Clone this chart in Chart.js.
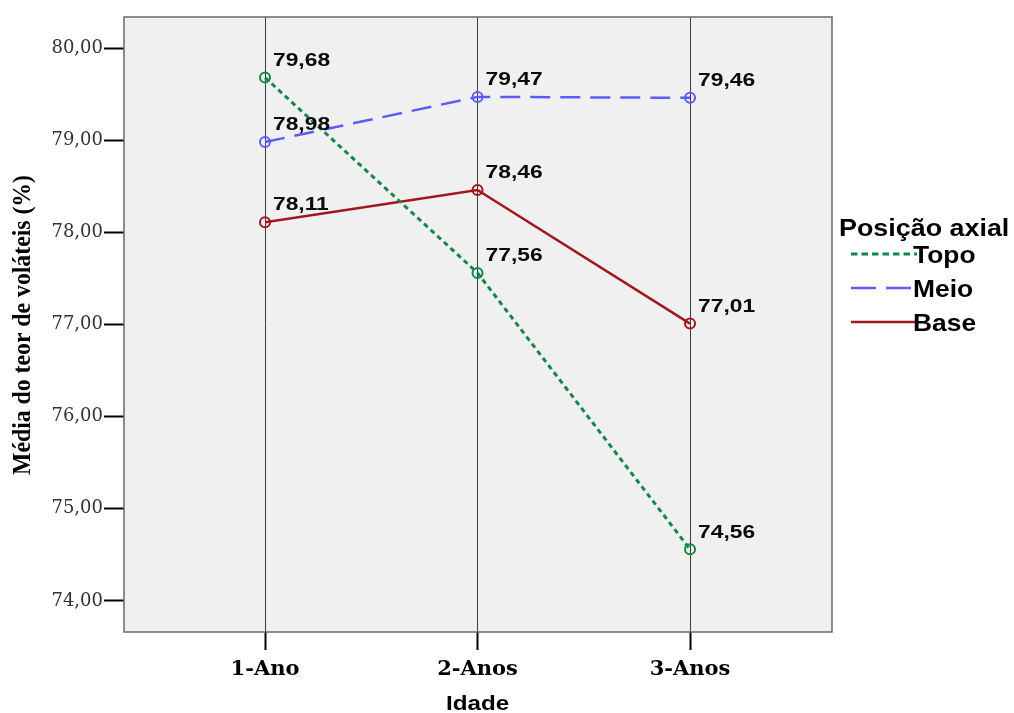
<!DOCTYPE html>
<html>
<head>
<meta charset="utf-8">
<title>Média do teor de voláteis por idade e posição axial</title>
<script src="https://cdn.jsdelivr.net/npm/chart.js@4.4.1/dist/chart.umd.min.js"></script>
<style>
  html, body { margin: 0; padding: 0; background: #ffffff; }
  #wrap { position: relative; width: 1014px; height: 713px; }
</style>
</head>
<body>
<div id="wrap"><canvas id="chart" width="1014" height="713"></canvas></div>
<script>
// Categories (age of the wood) and mean volatile content per axial position
const categories = ['1-Ano', '2-Anos', '3-Anos'];
const topo = [79.68, 77.56, 74.56];
const meio = [78.98, 79.47, 79.46];
const base = [78.11, 78.46, 77.01];
const yTickValues = [74, 75, 76, 77, 78, 79, 80];
const seriesNames = ['Topo', 'Meio', 'Base'];

const legendTitle = 'Posição axial';
const xTitle = 'Idade';
const yTitle = 'Média do teor de voláteis (%)';

const COLORS = { topo: '#12874a', meio: '#5b5bff', base: '#a3161e' };
const DASHES = { topo: [5, 4], meio: [20, 10], base: [] };

const fmt = v => v.toFixed(2).replace('.', ',');
const toPoints = arr => arr.map((v, i) => ({ x: i, y: v }));

// Draw text stretched horizontally by a given factor
function wideText(ctx, text, x, y, sx) {
  ctx.save();
  ctx.translate(x, y);
  ctx.scale(sx, 1);
  ctx.fillText(text, 0, 0);
  ctx.restore();
}

// Plot area background and frame
const plotFrame = {
  id: 'plotFrame',
  beforeDraw(chart) {
    const { ctx, chartArea: a } = chart;
    ctx.save();
    ctx.fillStyle = '#f0f0f0';
    ctx.fillRect(a.left, a.top, a.right - a.left, a.bottom - a.top);
    ctx.restore();
  },
  afterDraw(chart) {
    const { ctx, chartArea: a } = chart;
    ctx.save();
    ctx.strokeStyle = '#6a6a6a';
    ctx.lineWidth = 1.5;
    ctx.strokeRect(a.left, a.top, a.right - a.left, a.bottom - a.top);
    ctx.restore();
  }
};

// Value labels next to each marker
const valueLabels = {
  id: 'valueLabels',
  afterDatasetsDraw(chart) {
    const { ctx } = chart;
    ctx.save();
    ctx.font = 'bold 19px "Liberation Sans"';
    ctx.fillStyle = '#0a0a0a';
    ctx.textAlign = 'left';
    ctx.textBaseline = 'middle';
    chart.data.datasets.forEach((ds, di) => {
      const meta = chart.getDatasetMeta(di);
      meta.data.forEach((pt, i) => {
        wideText(ctx, fmt(ds.data[i].y), pt.x + 8, pt.y - 17, 1.2);
      });
    });
    ctx.restore();
  }
};

// Axis titles and the legend block on the right
const annotations = {
  id: 'annotations',
  afterDraw(chart) {
    const { ctx } = chart;
    ctx.save();
    ctx.fillStyle = '#000000';

    // x axis title
    ctx.font = 'bold 21px "Liberation Sans"';
    ctx.textAlign = 'center';
    ctx.textBaseline = 'alphabetic';
    const xs = chart.scales.x;
    wideText(ctx, xTitle, xs.getPixelForValue(1), 710, 1.15);

    // y axis title, fitted to 300px along the axis
    ctx.save();
    ctx.font = 'bold 20px "Liberation Serif"';
    const w = ctx.measureText(yTitle).width;
    ctx.translate(24, 325);
    ctx.rotate(-Math.PI / 2);
    ctx.scale(300 / w, 1.25);
    ctx.textAlign = 'center';
    ctx.textBaseline = 'middle';
    ctx.fillText(yTitle, 0, 0);
    ctx.restore();

    // legend
    ctx.textAlign = 'left';
    ctx.textBaseline = 'alphabetic';
    ctx.font = 'bold 24px "Liberation Sans"';
    wideText(ctx, legendTitle, 839, 236, 1.12);

    const keys = ['topo', 'meio', 'base'];
    const rowY = [254, 288, 322];
    keys.forEach((k, i) => {
      ctx.save();
      ctx.strokeStyle = COLORS[k];
      ctx.lineWidth = k === 'topo' ? 3 : 2.5;
      ctx.setLineDash(k === 'topo' ? [6.5, 4] : k === 'meio' ? [25, 10] : []);
      ctx.beginPath();
      ctx.moveTo(851, rowY[i]);
      ctx.lineTo(917, rowY[i]);
      ctx.stroke();
      ctx.restore();
      ctx.font = 'bold 24px "Liberation Sans"';
      ctx.textBaseline = 'alphabetic';
      ctx.fillStyle = '#000000';
      wideText(ctx, seriesNames[i], 913, rowY[i] + 9, 1.1);
    });
    ctx.restore();
  }
};

function lineDataset(label, values, key) {
  return {
    label,
    data: toPoints(values),
    borderColor: COLORS[key],
    borderWidth: key === 'topo' ? 3 : 2.5,
    borderDash: DASHES[key],
    pointStyle: 'circle',
    pointRadius: 5,
    pointBorderWidth: 2,
    pointBorderColor: COLORS[key],
    pointBackgroundColor: 'rgba(0,0,0,0)',
    tension: 0,
    fill: false
  };
}

new Chart(document.getElementById('chart'), {
  type: 'line',
  data: {
    datasets: [
      lineDataset(seriesNames[0], topo, 'topo'),
      lineDataset(seriesNames[1], meio, 'meio'),
      lineDataset(seriesNames[2], base, 'base')
    ]
  },
  options: {
    responsive: false,
    animation: false,
    devicePixelRatio: 1,
    layout: { padding: { left: 0, right: 182, top: 17, bottom: 0 } },
    plugins: {
      legend: { display: false },
      tooltip: { enabled: false },
      title: { display: false }
    },
    scales: {
      x: {
        type: 'linear',
        min: -0.6635,
        max: 2.668,
        afterBuildTicks(scale) {
          scale.ticks = categories.map((c, i) => ({ value: i }));
        },
        afterFit(scale) { scale.height = 81; },
        border: { display: false },
        grid: {
          drawOnChartArea: true,
          drawTicks: true,
          color: '#3a3a3a',
          lineWidth: 1,
          tickLength: 18,
          tickColor: '#000000',
          tickWidth: 2
        },
        ticks: {
          autoSkip: false,
          maxRotation: 0,
          padding: 7,
          color: '#000000',
          font: { family: '"DejaVu Serif"', size: 21, weight: 'bold' },
          callback: v => categories[v] ?? ''
        }
      },
      y: {
        type: 'linear',
        min: 73.663,
        max: 80.337,
        afterBuildTicks(scale) {
          scale.ticks = yTickValues.map(v => ({ value: v }));
        },
        afterFit(scale) { scale.width = 124; },
        border: { display: false },
        grid: {
          drawOnChartArea: false,
          drawTicks: true,
          tickLength: 20,
          tickColor: '#000000',
          tickWidth: 2
        },
        ticks: {
          padding: 1,
          color: '#333333',
          font: { family: '"DejaVu Serif"', size: 18 },
          callback: v => fmt(v)
        }
      }
    }
  },
  plugins: [plotFrame, valueLabels, annotations]
});
</script>
</body>
</html>
